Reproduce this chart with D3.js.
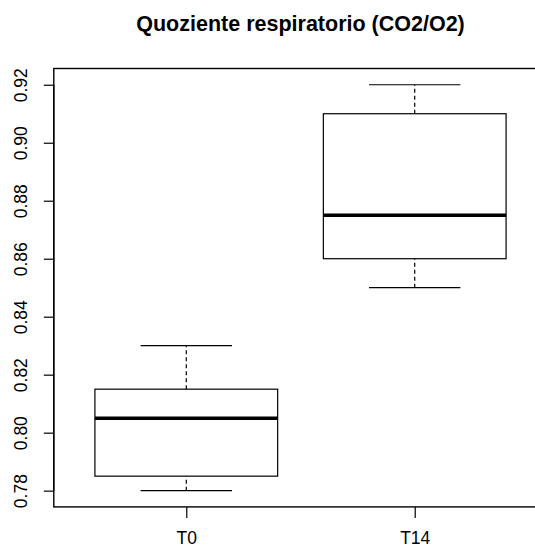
<!DOCTYPE html>
<html>
<head>
<meta charset="utf-8">
<script src="https://cdn.jsdelivr.net/npm/d3@7"></script>
<style>
  body { margin: 0; background: #fff; }
  text { font-family: "Liberation Sans", Arial, sans-serif; fill: #000; }
</style>
</head>
<body>
<svg id="chart" width="535" height="548"></svg>
<script>
// boxplot stats
const groups = ["T0", "T14"];
const whiskerLow = [0.78, 0.85];
const q1 = [0.785, 0.86];
const median = [0.805, 0.875];
const q3 = [0.815, 0.91];
const whiskerHigh = [0.83, 0.92];
const yTicks = [0.78, 0.80, 0.82, 0.84, 0.86, 0.88, 0.90, 0.92];

const svg = d3.select("#chart");
const plot = { left: 53.8, right: 547.2, top: 68.5, bottom: 506.9 };

const x = d3.scaleLinear().domain([0.42, 2.58]).range([plot.left, plot.right]);
const y = d3.scaleLinear().domain([0.7744, 0.9256]).range([plot.bottom, plot.top]);

const boxes = groups.map((g, i) => ({
    name: g, pos: i + 1,
    lo: whiskerLow[i], q1: q1[i], med: median[i], q3: q3[i], hi: whiskerHigh[i]
}));

// title
svg.append("text")
    .attr("x", x(1.5))
    .attr("y", 31)
    .attr("text-anchor", "middle")
    .style("font-size", "21.5px")
    .style("font-weight", "bold")
    .text("Quoziente respiratorio (CO2/O2)");

const g = svg.append("g");

// whiskers (dashed)
g.selectAll(".whisk").data(boxes).enter()
    .append("path")
    .attr("d", d => `M${x(d.pos)},${y(d.lo)}V${y(d.q1)}M${x(d.pos)},${y(d.q3)}V${y(d.hi)}`)
    .attr("stroke", "#000")
    .attr("stroke-width", 1.2)
    .attr("stroke-dasharray", "4,3");

// whisker caps
g.selectAll(".cap").data(boxes).enter()
    .append("path")
    .attr("d", d => `M${x(d.pos - 0.2)},${y(d.lo)}H${x(d.pos + 0.2)}M${x(d.pos - 0.2)},${y(d.hi)}H${x(d.pos + 0.2)}`)
    .attr("stroke", "#000")
    .attr("stroke-width", 1.2);

// boxes
g.selectAll(".box").data(boxes).enter()
    .append("rect")
    .attr("x", d => x(d.pos - 0.4))
    .attr("y", d => y(d.q3))
    .attr("width", d => x(d.pos + 0.4) - x(d.pos - 0.4))
    .attr("height", d => y(d.q1) - y(d.q3))
    .attr("fill", "none")
    .attr("stroke", "#000")
    .attr("stroke-width", 1.2);

// medians
g.selectAll(".med").data(boxes).enter()
    .append("line")
    .attr("x1", d => x(d.pos - 0.4))
    .attr("x2", d => x(d.pos + 0.4))
    .attr("y1", d => y(d.med))
    .attr("y2", d => y(d.med))
    .attr("stroke", "#000")
    .attr("stroke-width", 3.6);

// frame
svg.append("rect")
    .attr("x", plot.left)
    .attr("y", plot.top)
    .attr("width", plot.right - plot.left)
    .attr("height", plot.bottom - plot.top)
    .attr("fill", "none")
    .attr("stroke", "#000")
    .attr("stroke-width", 1.4);

// y axis
const yAxis = svg.append("g")
    .attr("transform", `translate(${plot.left},0)`)
    .call(d3.axisLeft(y).tickValues(yTicks).tickSize(10).tickFormat(d3.format(".2f")));
yAxis.select(".domain")
    .attr("d", `M0,${y(0.78)}V${y(0.92)}`)
    .attr("stroke-width", 1.2);
yAxis.selectAll(".tick line").attr("stroke-width", 1.2);
yAxis.selectAll(".tick text")
    .attr("x", null).attr("dy", null)
    .attr("transform", "translate(-27,0) rotate(-90)")
    .attr("text-anchor", "middle")
    .attr("fill", "#000")
    .style("font-size", "17.5px")
    .style("font-family", "'Liberation Sans', Arial, sans-serif");

// x axis
const xAxis = svg.append("g")
    .attr("transform", `translate(0,${plot.bottom})`)
    .call(d3.axisBottom(x).tickValues(boxes.map(d => d.pos)).tickSize(11)
        .tickFormat((d, i) => groups[i]));
xAxis.select(".domain").remove();
xAxis.selectAll(".tick line").attr("stroke-width", 1.2);
xAxis.selectAll(".tick text")
    .attr("y", 37).attr("dy", null)
    .attr("fill", "#000")
    .style("font-size", "17.5px")
    .style("font-family", "'Liberation Sans', Arial, sans-serif");
</script>
</body>
</html>
